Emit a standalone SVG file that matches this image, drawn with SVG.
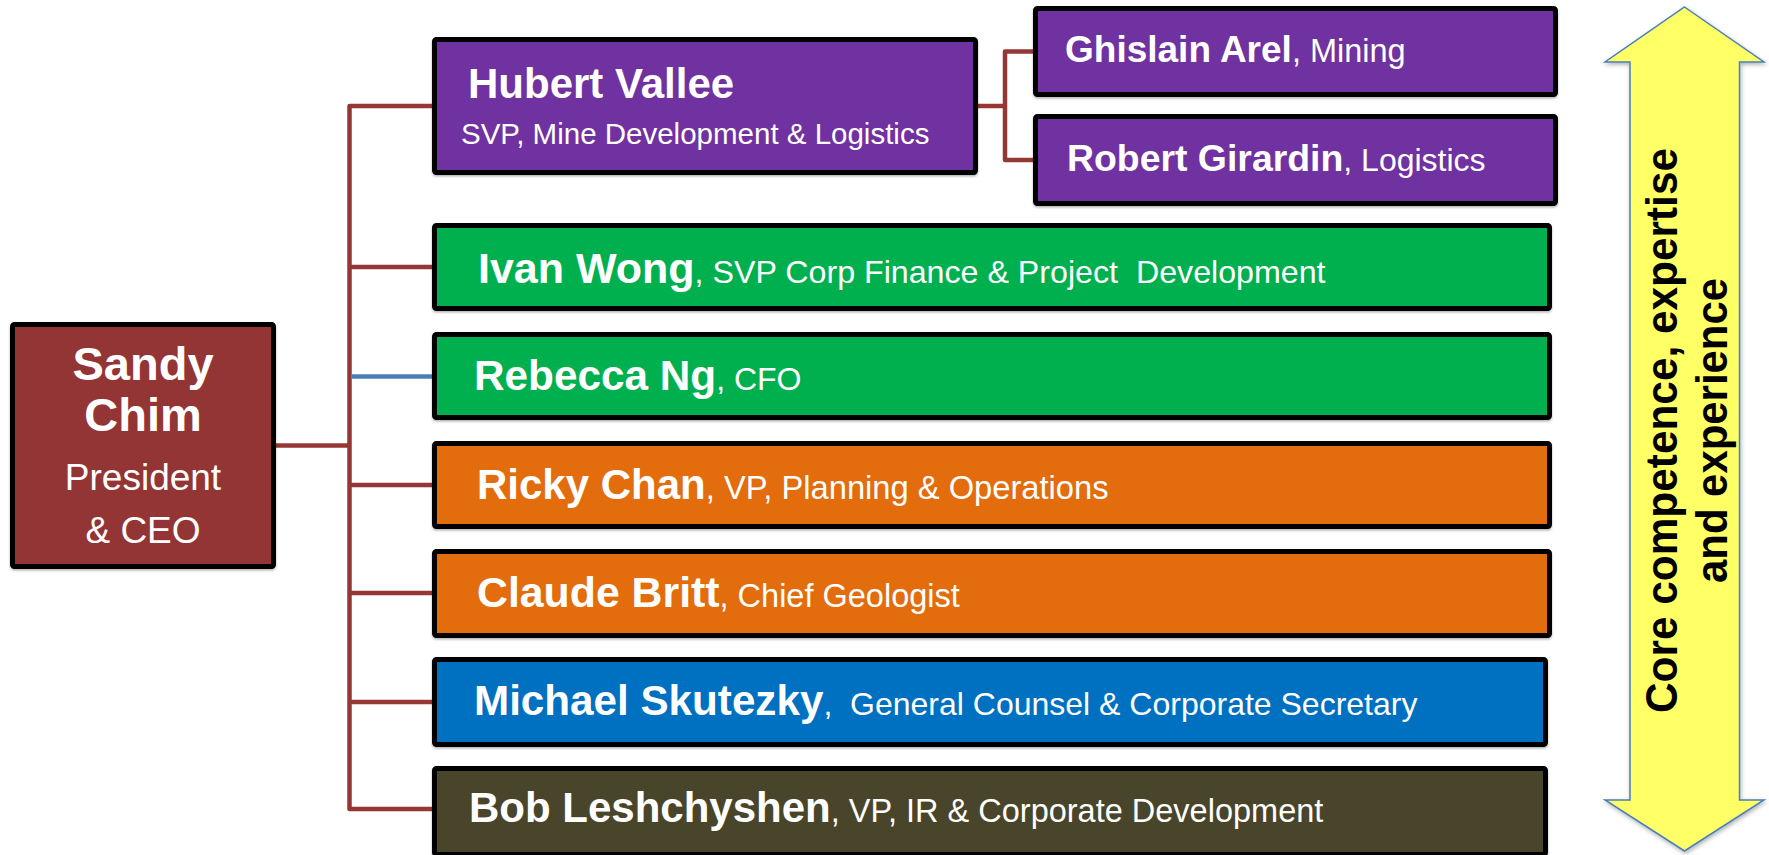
<svg xmlns="http://www.w3.org/2000/svg" width="1769" height="855" viewBox="0 0 1769 855">
<style>
.box{stroke:#000;stroke-width:5;filter:url(#sh)}
.conn{fill:none;stroke:#953735;stroke-width:4.5;stroke-linejoin:round}
.t{font-family:"Liberation Sans",Arial,sans-serif;fill:#fff}
.b{font-weight:bold}
.arrowtxt{font-family:"Liberation Sans",Arial,sans-serif;font-weight:bold;fill:#000;font-size:44px}
</style>
<defs>
<filter id="sh" x="-5%" y="-10%" width="110%" height="130%">
<feDropShadow dx="0" dy="1.5" stdDeviation="1" flood-color="#000" flood-opacity="0.3"/>
</filter>
<filter id="ash" x="-10%" y="-5%" width="120%" height="110%">
<feDropShadow dx="1" dy="2" stdDeviation="2" flood-color="#000" flood-opacity="0.3"/>
</filter>
</defs>

<g id="connectors">
<path class="conn" d="M432,106 H349.5 V809 H432"/>
<path class="conn" d="M276,445.5 H349.5"/>
<path class="conn" d="M349.5,267 H432"/>
<path d="M352,376.5 H432" fill="none" stroke="#4a7ebb" stroke-width="4.5"/>
<path class="conn" d="M349.5,485 H432"/>
<path class="conn" d="M349.5,593 H432"/>
<path class="conn" d="M349.5,702 H432"/>
<path class="conn" d="M978,106 H1005"/>
<path class="conn" d="M1033,51.5 H1005 V160 H1033"/>
</g>

<g id="sandy">
<rect class="box" x="12.5" y="324.5" width="261" height="242" rx="2" fill="#943634"/>
<text class="t b" x="143" y="380" font-size="47" text-anchor="middle">Sandy</text>
<text class="t b" x="143" y="431" font-size="47" text-anchor="middle">Chim</text>
<text class="t" x="143" y="490" font-size="37" text-anchor="middle">President</text>
<text class="t" x="143" y="543" font-size="37" text-anchor="middle">&amp; CEO</text>
</g>

<g id="hubert">
<rect class="box" x="434.5" y="39.5" width="541" height="133" rx="2" fill="#7030a0"/>
<text class="t b" x="468" y="98" font-size="42">Hubert Vallee</text>
<text class="t" x="461" y="144" font-size="29.5">SVP, Mine Development &amp; Logistics</text>
</g>

<g id="ghislain">
<rect class="box" x="1035.5" y="8.5" width="520" height="86" rx="2" fill="#7030a0"/>
<text class="t" x="1065" y="62" font-size="32.5"><tspan class="b" font-size="37">Ghislain Arel</tspan>, Mining</text>
</g>

<g id="robert">
<rect class="box" x="1035.5" y="116.5" width="520" height="87" rx="2" fill="#7030a0"/>
<text class="t" x="1067" y="171" font-size="32"><tspan class="b" font-size="37.4">Robert Girardin</tspan>, Logistics</text>
</g>

<g id="ivan">
<rect class="box" x="434.5" y="225.5" width="1115" height="83" rx="2" fill="#00b050"/>
<text class="t" x="478" y="283" font-size="32.2" xml:space="preserve"><tspan class="b" font-size="43">Ivan Wong</tspan>, SVP Corp Finance &amp; Project  Development</text>
</g>

<g id="rebecca">
<rect class="box" x="434.5" y="334.5" width="1115" height="83" rx="2" fill="#00b050"/>
<text class="t" x="474" y="390" font-size="32"><tspan class="b" font-size="42.3">Rebecca Ng</tspan>, CFO</text>
</g>

<g id="ricky">
<rect class="box" x="434.5" y="443.5" width="1115" height="83" rx="2" fill="#e36c0a"/>
<text class="t" x="477" y="499" font-size="32.7"><tspan class="b" font-size="42">Ricky Chan</tspan>, VP, Planning &amp; Operations</text>
</g>

<g id="claude">
<rect class="box" x="434.5" y="551.5" width="1115" height="84" rx="2" fill="#e36c0a"/>
<text class="t" x="477" y="607" font-size="32.5"><tspan class="b" font-size="42.8">Claude Britt</tspan>, Chief Geologist</text>
</g>

<g id="michael">
<rect class="box" x="434.5" y="659.5" width="1111" height="85" rx="2" fill="#0070c0"/>
<text class="t" x="474" y="715" font-size="32" xml:space="preserve"><tspan class="b" font-size="42.2">Michael Skutezky</tspan>,  General Counsel &amp; Corporate Secretary</text>
</g>

<g id="bob">
<rect class="box" x="434.5" y="768.5" width="1111" height="86" rx="2" fill="#494429"/>
<text class="t" x="469" y="822" font-size="32.5"><tspan class="b" font-size="42">Bob Leshchyshen</tspan>, VP, IR &amp; Corporate Development</text>
</g>

<g id="arrow">
<polygon points="1684.5,7 1764,62 1739.5,62 1739.5,800 1764,800 1684.5,851 1605,800 1630,800 1630,62 1605,62" fill="#ffff66" stroke="#4a7ebb" stroke-width="1.5" stroke-linejoin="miter" filter="url(#ash)"/>
<text class="arrowtxt" transform="translate(1677,430.5) rotate(-90)" text-anchor="middle" textLength="565" lengthAdjust="spacingAndGlyphs">Core competence, expertise</text>
<text class="arrowtxt" transform="translate(1727,430.5) rotate(-90)" text-anchor="middle" textLength="305" lengthAdjust="spacingAndGlyphs">and experience</text>
</g>
</svg>
